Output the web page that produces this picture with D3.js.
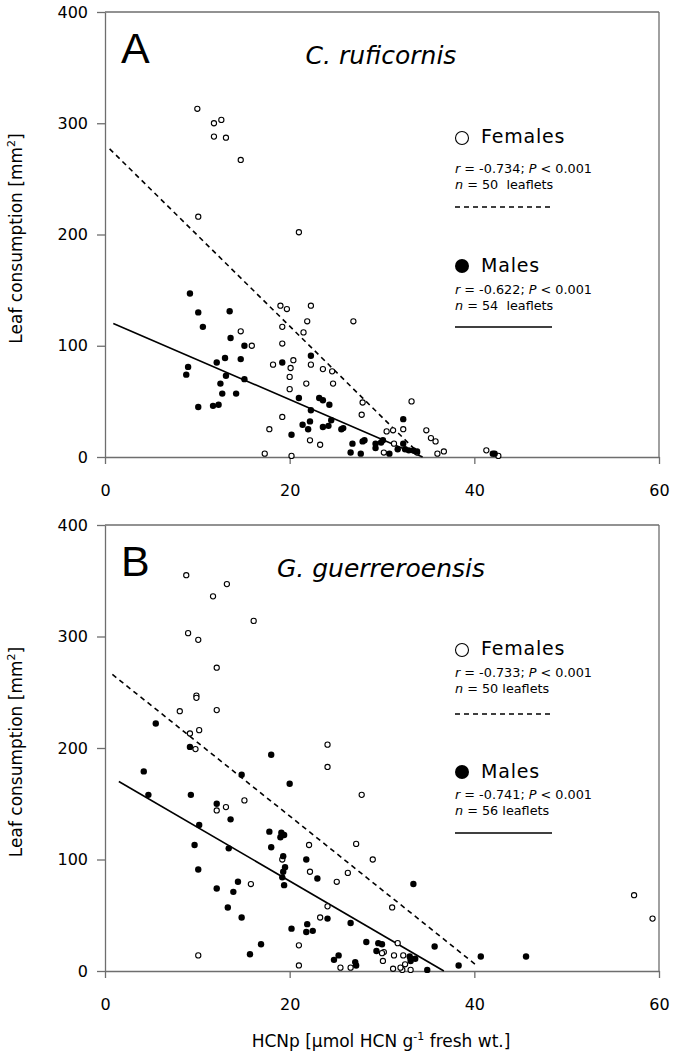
<!DOCTYPE html>
<html><head><meta charset="utf-8">
<script src="https://cdn.jsdelivr.net/npm/d3@7"></script>
<style>body{margin:0;background:#fff}svg{display:block}</style>
</head><body><svg id="c" width="674" height="1062"></svg>
<script>
// ---- data ----
const xTicks=[0,20,40,60];
const yTicks=[0,100,200,300,400];
const femalesA=[[10.0,313],[11.8,300],[12.6,303],[11.8,288],[13.1,287],[14.7,267],[10.1,216],[21.0,202],
[14.7,113],[15.9,100],[19.0,136],[19.7,133],[19.2,117],[19.2,102],[20.4,87],[18.2,83],[20.1,80],[20.0,72],[20.0,61],[19.2,36],[17.8,25],[17.3,3],[20.2,1],
[22.3,136],[21.9,122],[21.5,112],[26.9,122],[22.3,83],[23.6,79],[24.6,77],[21.8,66],[24.7,66],[27.9,49],[27.8,38],[33.2,50],[30.5,23],[31.2,24],[32.3,25],[34.8,24],[35.3,17],[35.8,14],[22.2,15],[23.3,11],[31.3,12],[30.2,4],[36.0,3],[36.7,5],[33.8,4],[41.3,6],[42.6,1]];
const malesA=[[9.2,147],[10.1,130],[10.6,117],[13.5,131],[13.6,107],[15.1,100],[12.1,85],[13.0,89],[14.7,88],[9.0,81],[8.8,74],[13.1,73],[12.5,66],[15.1,70],[12.7,57],[14.2,57],[10.1,45],[11.7,46],[12.3,47],[19.2,85],[21.0,53],[20.2,20],
[22.3,91],[23.2,53],[23.6,51],[24.3,47],[22.3,42],[21.4,29],[22.0,25],[22.2,32],[23.6,27],[24.2,28],[24.5,33],[25.6,25],[25.8,26],[26.8,12],[26.6,4],[27.7,3],[27.9,14],[28.1,15],[29.3,12],[29.3,8],[29.9,13],[30.8,3],[31.7,7],[32.3,34],[32.3,12],[32.5,7],[32.9,6],[33.4,6],[33.8,5],[42.0,3],[42.2,3],[30.1,15]];
const femalesB=[[8.8,355],[13.2,347],[11.7,336],[16.1,314],[9.0,303],[10.1,297],[12.1,272],[9.9,247],[9.9,245],[8.1,233],[12.1,234],[10.2,216],[9.2,213],[9.8,199],
[12.1,144],[13.1,147],[15.1,153],[19.2,100],[15.8,78],[10.1,14],[21.0,23],[21.0,5],
[24.1,203],[24.1,183],[27.8,158],[22.1,113],[27.2,114],[29.0,100],[22.2,89],[26.3,88],[25.1,80],[24.1,58],[31.1,57],[23.3,48],[31.7,25],[30.2,17],[30.0,16],[31.3,14],[32.3,14],[30.1,9],[25.5,3],[26.6,3],[31.2,2],[32.2,1],[33.1,1],[32.5,6],[33.1,11],[32.0,3],
[57.3,68],[59.3,47]];
const malesB=[[5.5,222],[9.2,201],[18.0,194],
[4.2,179],[14.8,176],[20.0,168],[4.7,158],[9.3,158],[12.1,150],[13.6,136],[10.2,131],[17.8,125],[19.1,124],[19.4,122],[9.7,113],[18.0,111],[13.4,110],[19.3,103],[19.5,93],[19.3,89],[19.2,84],[19.4,77],[10.1,91],[14.4,80],[12.1,74],[13.9,71],[13.3,57],[14.8,48],[20.2,38],[16.9,24],[15.7,15],
[21.8,100],[23.0,83],[33.4,78],[24.1,47],[26.6,43],[21.9,42],[21.8,35],[28.3,26],[29.6,25],[30.0,24],[29.4,18],[35.7,22],[25.3,14],[24.8,10],[27.1,8],[27.2,5],[33.6,11],[33.1,9],[34.9,1],[38.3,5],[40.7,13],[45.6,13],[33.0,13],[22.5,36],[19.0,120]];
const fLineA=[[0.5,277],[33.9,4]];
const mLineA=[[0.9,120],[34.4,0]];
const fLineB=[[0.8,266],[40.4,4]];
const mLineB=[[1.5,170],[36.7,0]];
const labels=["A","B"];
const species=["C. ruficornis","G. guerreroensis"];
const statsF=[["-0.734","50"],["-0.733","50"]];
const statsM=[["-0.622","54"],["-0.741","56"]];
const nSep=["  ","\u00a0"];

// ---- layout ----
const svg=d3.select("#c");
const FONT="DejaVu Sans, Verdana, sans-serif";
const AX="#6e6e6e";
const panels=[
 {top:12,bottom:457,f:femalesA,m:malesA,fl:fLineA,ml:mLineA,
  leg:{fT:143,fR:173,fN:189,fL:207,mT:272,mR:294,mN:310,mL:327}},
 {top:525,bottom:971,f:femalesB,m:malesB,fl:fLineB,ml:mLineB,
  leg:{fT:655,fR:677,fN:693,fL:714,mT:778,mR:799,mN:815,mL:833}}
];
const L=105,R=659;
panels.forEach((p,i)=>{
  const x=d3.scaleLinear().domain([0,60]).range([L,R]);
  const y=d3.scaleLinear().domain([0,400]).range([p.bottom,p.top]);
  const g=svg.append("g");
  // frame top/right
  g.append("line").attr("x1",L).attr("x2",R).attr("y1",p.top).attr("y2",p.top).attr("stroke",AX).attr("stroke-width",1.3);
  g.append("line").attr("x1",R).attr("x2",R).attr("y1",p.top).attr("y2",p.bottom).attr("stroke",AX).attr("stroke-width",1.3);
  // axes
  const ya=g.append("g").attr("transform",`translate(${L},0)`)
    .call(d3.axisLeft(y).tickValues(yTicks).tickSize(8).tickSizeOuter(0).tickPadding(9));
  const xa=g.append("g").attr("transform",`translate(0,${p.bottom})`)
    .call(d3.axisBottom(x).tickValues(xTicks).tickSize(7).tickSizeOuter(0));
  [ya,xa].forEach(a=>{a.selectAll("path,line").attr("stroke",AX).attr("stroke-width",1.3);
    a.selectAll("text").attr("font-family",FONT).attr("font-size",16).attr("fill","#000");});
  xa.selectAll("text").attr("y",39).attr("dy",null);
  // y label
  const yl=g.append("text").attr("transform",`translate(22,${(p.top+p.bottom)/2+4}) rotate(-90)`)
    .attr("text-anchor","middle").attr("font-family",FONT).attr("font-size",17);
  yl.append("tspan").text("Leaf consumption [mm");
  yl.append("tspan").attr("font-size",11).attr("dy",-7).text("2");
  yl.append("tspan").attr("dy",7).text("]");
  // panel letter and species
  g.append("text").attr("x",121).attr("y",p.top+51).attr("font-family","Liberation Sans, Arial, sans-serif")
    .attr("font-size",43).text(labels[i]);
  g.append("text").attr("x",381).attr("y",p.top+52).attr("text-anchor","middle").attr("font-family",FONT)
    .attr("font-style","italic").attr("font-size",25).text(species[i]);
  // regression lines
  const line=d3.line().x(d=>x(d[0])).y(d=>y(d[1]));
  g.append("path").attr("d",line(p.fl)).attr("fill","none").attr("stroke","#000").attr("stroke-width",1.6).attr("stroke-dasharray","5,4");
  g.append("path").attr("d",line(p.ml)).attr("fill","none").attr("stroke","#000").attr("stroke-width",1.6);
  // points
  g.selectAll(".f").data(p.f).join("circle").attr("cx",d=>x(d[0])).attr("cy",d=>y(d[1])).attr("r",2.6)
    .attr("fill","#fff").attr("stroke","#000").attr("stroke-width",1.1);
  g.selectAll(".m").data(p.m).join("circle").attr("cx",d=>x(d[0])).attr("cy",d=>y(d[1])).attr("r",3.2)
    .attr("fill","#000");
  // legend
  const lg=p.leg, lx=455;
  g.append("circle").attr("cx",462).attr("cy",lg.fT-5).attr("r",6.5).attr("fill","#fff").attr("stroke","#000").attr("stroke-width",1.1);
  g.append("text").attr("x",481).attr("y",lg.fT).attr("font-family",FONT).attr("font-size",19).attr("letter-spacing",0.8).text("Females");
  g.append("circle").attr("cx",462).attr("cy",lg.mT-6).attr("r",7).attr("fill","#000");
  g.append("text").attr("x",481).attr("y",lg.mT).attr("font-family",FONT).attr("font-size",19).attr("letter-spacing",0.8).text("Males");
  function stats(yy,rv){
    const t=g.append("text").attr("x",lx).attr("y",yy).attr("font-family",FONT).attr("font-size",12.8);
    t.append("tspan").attr("font-style","italic").text("r");
    t.append("tspan").text(" = "+rv+"; ");
    t.append("tspan").attr("font-style","italic").text("P");
    t.append("tspan").text(" < 0.001");
  }
  function nline(yy,nv){
    const t=g.append("text").attr("x",lx).attr("y",yy).attr("font-family",FONT).attr("font-size",12.8).attr("xml:space","preserve");
    t.append("tspan").attr("font-style","italic").text("n");
    t.append("tspan").text(" = "+nv+nSep[i]+"leaflets");
  }
  stats(lg.fR,statsF[i][0]); nline(lg.fN,statsF[i][1]);
  stats(lg.mR,statsM[i][0]); nline(lg.mN,statsM[i][1]);
  g.append("line").attr("x1",lx).attr("x2",551).attr("y1",lg.fL).attr("y2",lg.fL).attr("stroke","#000").attr("stroke-width",1.4).attr("stroke-dasharray","5,4");
  g.append("line").attr("x1",lx).attr("x2",552).attr("y1",lg.mL).attr("y2",lg.mL).attr("stroke","#000").attr("stroke-width",1.6);
});
// x label
const xl=svg.append("text").attr("x",381).attr("y",1047).attr("text-anchor","middle").attr("font-family",FONT).attr("font-size",17);
xl.append("tspan").text("HCNp [\u00b5mol HCN g");
xl.append("tspan").attr("font-size",11).attr("dy",-7).text("-1");
xl.append("tspan").attr("dy",7).text(" fresh wt.]");
</script></body></html>
